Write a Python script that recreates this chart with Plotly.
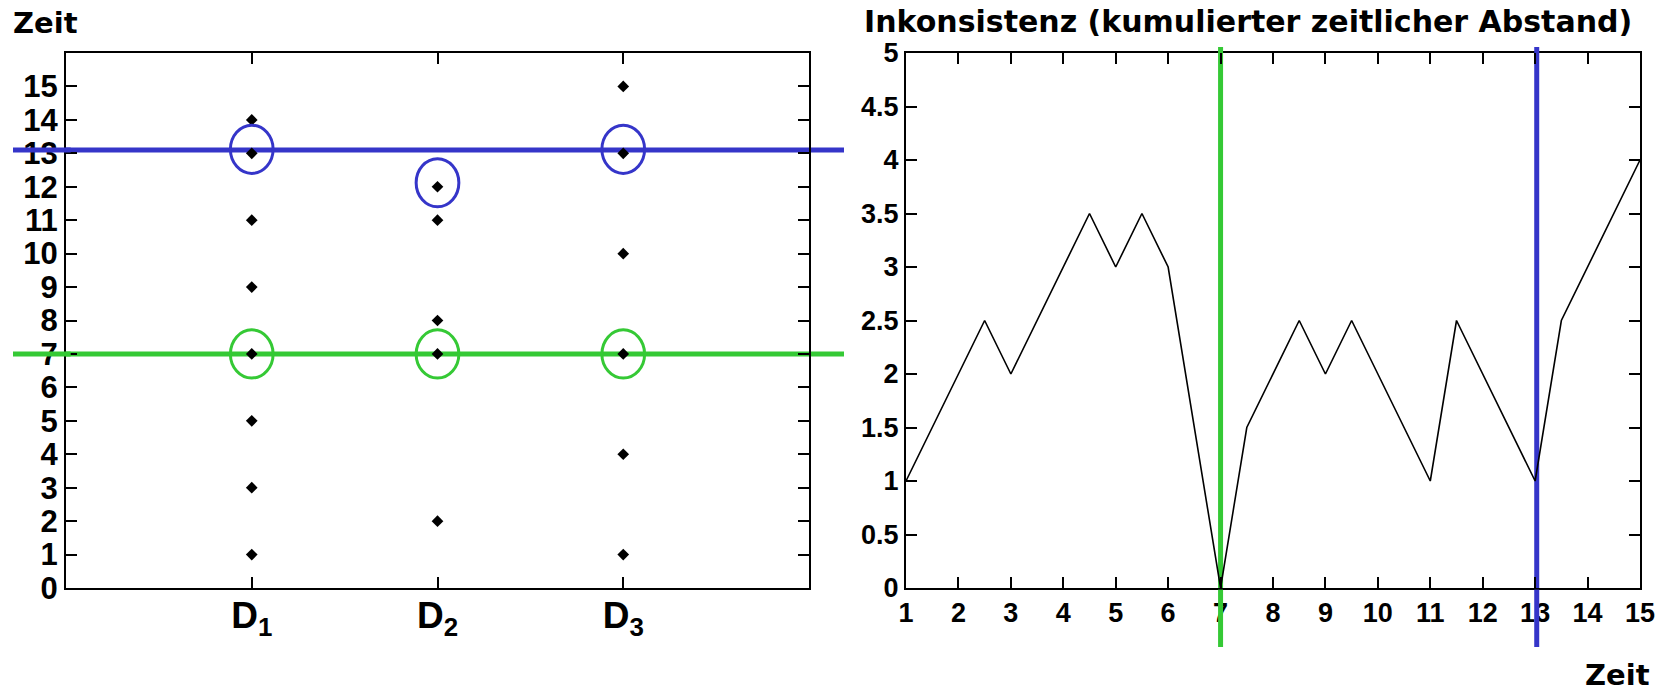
import plotly.graph_objects as go

# ---------------- data ----------------
categories = ["D1", "D2", "D3"]
category_labels = ["D<sub>1</sub>", "D<sub>2</sub>", "D<sub>3</sub>"]
d1_times = [1, 3, 5, 7, 9, 11, 13, 14]
d2_times = [2, 7, 8, 11, 12]
d3_times = [1, 4, 7, 10, 13, 15]
green_marks = [7, 7, 7]      # highlighted (green) value per data source
blue_marks = [13, 12, 13]    # highlighted (blue) value per data source
green_time = 7
blue_time = 13

zeit = [1, 2.5, 3, 4.5, 5, 5.5, 6, 7, 7.5, 8.5, 9, 9.5, 11, 11.5, 13, 13.5, 15]
inkonsistenz = [1, 2.5, 2, 3.5, 3, 3.5, 3, 0, 1.5, 2.5, 2, 2.5, 1, 2.5, 1, 2.5, 4]

left_yticks = list(range(0, 16))
right_xticks = list(range(1, 16))
right_yticks = [0, 0.5, 1, 1.5, 2, 2.5, 3, 3.5, 4, 4.5, 5]

# ---------------- style ----------------
BLUE = "#3535C9"
GREEN = "#35C935"
W, H = 1669, 693
ML, MR, MT, MB = 66, 29, 53, 105
TICK_FONT = dict(family="Liberation Sans, Arial, sans-serif", size=31, color="black", weight="bold")
TICK_FONT_R = dict(family="Liberation Sans, Arial, sans-serif", size=27, color="black", weight="bold")
TITLE_FONT = dict(family="DejaVu Sans, Verdana, sans-serif", size=29, color="black", weight="bold")

fig = go.Figure()

series = [d1_times, d2_times, d3_times]
for i, (name, times) in enumerate(zip(categories, series)):
    fig.add_trace(go.Scatter(
        x=[i + 1] * len(times), y=times, mode="markers", name=name,
        marker=dict(symbol="diamond", size=9, color="black"),
        xaxis="x", yaxis="y", showlegend=False, cliponaxis=False,
    ))

fig.add_trace(go.Scatter(
    x=zeit, y=inkonsistenz, mode="lines",
    line=dict(color="black", width=1.6),
    xaxis="x2", yaxis="y2", showlegend=False,
))

pw = W - ML - MR
ph = H - MT - MB

shapes = []
# horizontal highlight lines (left panel), extending past the axes
left_x0, left_x1 = (13 - ML) / pw, (844 - ML) / pw
for val, col, off in [(green_time, GREEN, 0.0), (blue_time, BLUE, 0.1)]:
    shapes.append(dict(type="line", xref="paper", yref="y", x0=0, x1=left_x1,
                       y0=val + off, y1=val + off, line=dict(color=col, width=5), layer="below"))
    shapes.append(dict(type="line", xref="paper", yref="y", x0=left_x0, x1=0.003,
                       y0=val + off, y1=val + off, line=dict(color=col, width=5), layer="above"))

# ellipses around highlighted points
ew, eh = 0.115, 0.72
for i in range(len(categories)):
    for val, col, off in [(green_marks[i], GREEN, 0.0), (blue_marks[i], BLUE, 0.12)]:
        cx = i + 1
        cy = val + off
        shapes.append(dict(type="circle", xref="x", yref="y",
                           x0=cx - ew, x1=cx + ew, y0=cy - eh, y1=cy + eh,
                           line=dict(color=col, width=3), layer="above"))

# vertical lines (right panel)
top_p = (H - MB - 47) / ph
bot_p = (H - MB - 647) / ph
for val, col in [(green_time, GREEN), (blue_time + 0.03, BLUE)]:
    shapes.append(dict(type="line", xref="x2", yref="paper", x0=val, x1=val,
                       y0=0, y1=1, line=dict(color=col, width=5), layer="below"))
    shapes.append(dict(type="line", xref="x2", yref="paper", x0=val, x1=val,
                       y0=bot_p, y1=-0.003, line=dict(color=col, width=5), layer="above"))
    shapes.append(dict(type="line", xref="x2", yref="paper", x0=val, x1=val,
                       y0=1.0, y1=top_p, line=dict(color=col, width=5), layer="above"))

annotations = [
    dict(text="Zeit", xref="paper", yref="paper", x=(11 - ML) / pw, y=(H - MB - 23) / ph,
         xanchor="left", yanchor="middle", showarrow=False, font=TITLE_FONT),
    dict(text="Inkonsistenz (kumulierter zeitlicher Abstand)", xref="paper", yref="paper",
         x=(1248 - ML) / pw, y=(H - MB - 22) / ph, xanchor="center", yanchor="middle",
         showarrow=False, font=dict(TITLE_FONT, size=30)),
    dict(text="Zeit", xref="paper", yref="paper", x=(1617.5 - ML) / pw, y=(H - MB - 675) / ph,
         xanchor="center", yanchor="middle", showarrow=False, font=TITLE_FONT),
]

axis_common = dict(showline=True, linecolor="black", linewidth=2, mirror="ticks",
                   ticks="inside", ticklen=11, tickwidth=1.5, tickcolor="black",
                   showgrid=False, zeroline=False)

fig.update_layout(
    width=W, height=H,
    margin=dict(l=ML, r=MR, t=MT, b=MB),
    paper_bgcolor="white", plot_bgcolor="white",
    shapes=shapes, annotations=annotations,
    xaxis=dict(domain=[0, (809 - ML) / pw], range=[0, 4], anchor="y",
               tickvals=[1, 2, 3], ticktext=category_labels,
               tickfont=dict(TICK_FONT, size=37), ticklabelstandoff=-6, **axis_common),
    yaxis=dict(domain=[0, 1], range=[0, 16], anchor="x",
               tickvals=left_yticks, tickfont=TICK_FONT, **axis_common),
    xaxis2=dict(domain=[(906 - ML) / pw, 1], range=[1, 15], anchor="y2",
                tickvals=right_xticks, tickfont=TICK_FONT_R, **axis_common),
    yaxis2=dict(domain=[0, 1], range=[0, 5], anchor="x2",
                tickvals=right_yticks, tickfont=TICK_FONT_R, **axis_common),
)

fig.write_html("out.html", config={"displayModeBar": False},
               post_script="document.body.style.margin='0';document.body.style.overflow='hidden';")
